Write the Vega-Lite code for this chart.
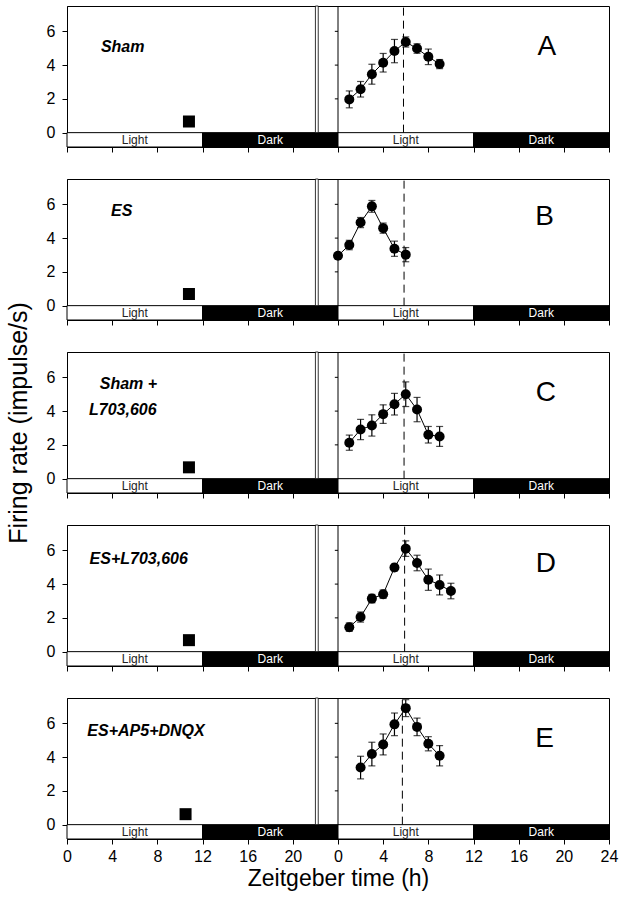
{
  "$schema": "https://vega.github.io/schema/vega-lite/v6.json",
  "padding": {"left": 5, "top": 5, "right": 5, "bottom": 2},
  "bounds": "flush",
  "spacing": 32,
  "datasets": {
    "segments": [
      {"start": 0, "end": 12, "mid": 6, "phase": "Light"},
      {"start": 12, "end": 24, "mid": 18, "phase": "Dark"},
      {"start": 24, "end": 36, "mid": 30, "phase": "Light"},
      {"start": 36, "end": 48, "mid": 42, "phase": "Dark"}
    ],
    "markers": [
      {"panel": "A", "t": 10.8, "v": 0.66},
      {"panel": "B", "t": 10.8, "v": 0.69},
      {"panel": "C", "t": 10.8, "v": 0.67},
      {"panel": "D", "t": 10.8, "v": 0.68},
      {"panel": "E", "t": 10.5, "v": 0.62}
    ],
    "points": [
      {"panel": "A", "t": 25, "v": 1.97, "err": 0.5},
      {"panel": "A", "t": 26, "v": 2.57, "err": 0.46},
      {"panel": "A", "t": 27, "v": 3.46, "err": 0.59},
      {"panel": "A", "t": 28, "v": 4.14, "err": 0.55},
      {"panel": "A", "t": 29, "v": 4.83, "err": 0.69},
      {"panel": "A", "t": 30, "v": 5.37, "err": 0.3},
      {"panel": "A", "t": 31, "v": 4.98, "err": 0.28},
      {"panel": "A", "t": 32, "v": 4.49, "err": 0.46},
      {"panel": "A", "t": 33, "v": 4.06, "err": 0.27},
      {"panel": "B", "t": 24, "v": 2.96, "err": 0.12},
      {"panel": "B", "t": 25, "v": 3.59, "err": 0.28},
      {"panel": "B", "t": 26, "v": 4.92, "err": 0.3},
      {"panel": "B", "t": 27, "v": 5.88, "err": 0.35},
      {"panel": "B", "t": 28, "v": 4.59, "err": 0.3},
      {"panel": "B", "t": 29, "v": 3.37, "err": 0.45},
      {"panel": "B", "t": 30, "v": 3.02, "err": 0.42},
      {"panel": "C", "t": 25, "v": 2.13, "err": 0.45},
      {"panel": "C", "t": 26, "v": 2.91, "err": 0.6},
      {"panel": "C", "t": 27, "v": 3.15, "err": 0.63},
      {"panel": "C", "t": 28, "v": 3.82, "err": 0.55},
      {"panel": "C", "t": 29, "v": 4.41, "err": 0.64},
      {"panel": "C", "t": 30, "v": 5.0, "err": 0.73},
      {"panel": "C", "t": 31, "v": 4.09, "err": 0.72},
      {"panel": "C", "t": 32, "v": 2.6, "err": 0.49},
      {"panel": "C", "t": 33, "v": 2.5, "err": 0.59},
      {"panel": "D", "t": 25, "v": 1.45, "err": 0.25},
      {"panel": "D", "t": 26, "v": 2.05, "err": 0.3},
      {"panel": "D", "t": 27, "v": 3.14, "err": 0.25},
      {"panel": "D", "t": 28, "v": 3.4, "err": 0.25},
      {"panel": "D", "t": 29, "v": 4.98, "err": 0.2},
      {"panel": "D", "t": 30, "v": 6.1, "err": 0.46},
      {"panel": "D", "t": 31, "v": 5.25, "err": 0.46},
      {"panel": "D", "t": 32, "v": 4.26, "err": 0.63},
      {"panel": "D", "t": 33, "v": 3.95, "err": 0.59},
      {"panel": "D", "t": 34, "v": 3.59, "err": 0.46},
      {"panel": "E", "t": 26, "v": 3.38, "err": 0.67},
      {"panel": "E", "t": 27, "v": 4.18, "err": 0.7},
      {"panel": "E", "t": 28, "v": 4.75, "err": 0.62},
      {"panel": "E", "t": 29, "v": 5.94, "err": 0.67},
      {"panel": "E", "t": 30, "v": 6.9, "err": 0.5},
      {"panel": "E", "t": 31, "v": 5.79, "err": 0.52},
      {"panel": "E", "t": 32, "v": 4.79, "err": 0.42},
      {"panel": "E", "t": 33, "v": 4.08, "err": 0.6}
    ],
    "labels": [
      {"panel": "A", "text": "Sham", "t": 3.0, "v": 5.1},
      {"panel": "B", "text": "ES", "t": 3.9, "v": 5.6},
      {"panel": "C", "text": "Sham +", "t": 2.9, "v": 5.6},
      {"panel": "C", "text": "L703,606", "t": 1.95, "v": 4.06},
      {"panel": "D", "text": "ES+L703,606", "t": 2.0, "v": 5.5},
      {"panel": "E", "text": "ES+AP5+DNQX", "t": 1.8, "v": 5.54}
    ],
    "letters": [
      {"panel": "A", "text": "A", "t": 42.5, "v": 5.07},
      {"panel": "B", "text": "B", "t": 42.3, "v": 5.24},
      {"panel": "C", "text": "C", "t": 42.4, "v": 5.06},
      {"panel": "D", "text": "D", "t": 42.4, "v": 5.2},
      {"panel": "E", "text": "E", "t": 42.3, "v": 5.1}
    ],
    "rticks": [{"v": 2}, {"v": 4}, {"v": 6}]
  },
  "vconcat": [
    {
      "width": 542, "height": 141,
      "layer": [
        {"data": {"name": "segments"}, "mark": {"type": "rect", "stroke": "black", "strokeWidth": 1},
         "encoding": {
           "x": {"field": "start", "type": "quantitative", "title": null, "scale": {"domain": [0, 48], "nice": false, "zero": false},
                 "axis": {"values": [0,4,8,12,16,20,24,28,32,36,40,44,48], "labels": false, "title": null, "tickSize": 5}},
           "x2": {"field": "end"},
           "y": {"datum": 0, "type": "quantitative", "scale": {"domain": [-0.85, 7.5], "nice": false, "zero": false},
                 "axis": {"values": [0,2,4,6], "title": null}},
           "y2": {"datum": -0.85},
           "fill": {"field": "phase", "type": "nominal", "scale": {"domain": ["Light", "Dark"], "range": ["#ffffff", "#000000"]}, "legend": null}}},
        {"data": {"name": "segments"}, "mark": {"type": "text", "fontSize": 12, "baseline": "middle"},
         "encoding": {"x": {"field": "mid", "type": "quantitative", "title": null}, "y": {"datum": -0.42}, "text": {"field": "phase"},
           "color": {"field": "phase", "type": "nominal", "scale": {"domain": ["Light", "Dark"], "range": ["#222222", "#ffffff"]}, "legend": null}}},
        {"data": {"values": [{}]}, "mark": {"type": "rect", "fill": "white", "stroke": "black", "strokeWidth": 0.8},
         "encoding": {"x": {"datum": 22}, "x2": {"datum": 22.25}, "y": {"datum": 0}, "y2": {"datum": 7.5}}},
        {"data": {"values": [{}]}, "mark": {"type": "rule", "color": "black", "strokeWidth": 1},
         "encoding": {"x": {"datum": 24}, "y": {"datum": 0}, "y2": {"datum": 7.5}}},
        {"data": {"name": "rticks"}, "mark": {"type": "rule", "color": "black", "strokeWidth": 1},
         "encoding": {"x": {"datum": 23.72}, "x2": {"datum": 24}, "y": {"field": "v", "type": "quantitative", "title": null}}},
        {"data": {"values": [{}]}, "mark": {"type": "rule", "color": "#000000", "strokeWidth": 1, "strokeDash": [8, 5]},
         "encoding": {"x": {"datum": 29.8}, "y": {"datum": 0}, "y2": {"datum": 7.5}}},
        {"data": {"name": "markers"}, "transform": [{"filter": "datum.panel == 'A'"}],
         "mark": {"type": "square", "filled": true, "color": "black", "size": 144, "opacity": 1},
         "encoding": {"x": {"field": "t", "type": "quantitative", "title": null}, "y": {"field": "v", "type": "quantitative", "title": null}}},
        {"data": {"name": "points"}, "transform": [{"filter": "datum.panel == 'A'"}],
         "mark": {"type": "line", "color": "black", "strokeWidth": 1},
         "encoding": {"x": {"field": "t", "type": "quantitative", "title": null}, "y": {"field": "v", "type": "quantitative", "title": null}}},
        {"data": {"name": "points"}, "transform": [{"filter": "datum.panel == 'A'"}],
         "mark": {"type": "errorbar", "color": "black", "thickness": 1.2, "ticks": {"size": 7, "color": "black", "thickness": 1.2}},
         "encoding": {"x": {"field": "t", "type": "quantitative", "title": null}, "y": {"field": "v", "type": "quantitative", "title": null}, "yError": {"field": "err"}}},
        {"data": {"name": "points"}, "transform": [{"filter": "datum.panel == 'A'"}],
         "mark": {"type": "circle", "color": "black", "size": 100, "opacity": 1},
         "encoding": {"x": {"field": "t", "type": "quantitative", "title": null}, "y": {"field": "v", "type": "quantitative", "title": null}}},
        {"data": {"name": "labels"}, "transform": [{"filter": "datum.panel == 'A'"}],
         "mark": {"type": "text", "align": "left", "baseline": "middle", "fontSize": 16, "fontWeight": "bold", "fontStyle": "italic", "color": "black"},
         "encoding": {"x": {"field": "t", "type": "quantitative", "title": null}, "y": {"field": "v", "type": "quantitative", "title": null}, "text": {"field": "text"}}},
        {"data": {"name": "letters"}, "transform": [{"filter": "datum.panel == 'A'"}],
         "mark": {"type": "text", "align": "center", "baseline": "middle", "fontSize": 28, "color": "black"},
         "encoding": {"x": {"field": "t", "type": "quantitative", "title": null}, "y": {"field": "v", "type": "quantitative", "title": null}, "text": {"field": "text"}}}
      ]
    },
    {
      "width": 542, "height": 141,
      "layer": [
        {"data": {"name": "segments"}, "mark": {"type": "rect", "stroke": "black", "strokeWidth": 1},
         "encoding": {
           "x": {"field": "start", "type": "quantitative", "title": null, "scale": {"domain": [0, 48], "nice": false, "zero": false},
                 "axis": {"values": [0,4,8,12,16,20,24,28,32,36,40,44,48], "labels": false, "title": null, "tickSize": 5}},
           "x2": {"field": "end"},
           "y": {"datum": 0, "type": "quantitative", "scale": {"domain": [-0.85, 7.5], "nice": false, "zero": false},
                 "axis": {"values": [0,2,4,6], "title": null}},
           "y2": {"datum": -0.85},
           "fill": {"field": "phase", "type": "nominal", "scale": {"domain": ["Light", "Dark"], "range": ["#ffffff", "#000000"]}, "legend": null}}},
        {"data": {"name": "segments"}, "mark": {"type": "text", "fontSize": 12, "baseline": "middle"},
         "encoding": {"x": {"field": "mid", "type": "quantitative", "title": null}, "y": {"datum": -0.42}, "text": {"field": "phase"},
           "color": {"field": "phase", "type": "nominal", "scale": {"domain": ["Light", "Dark"], "range": ["#222222", "#ffffff"]}, "legend": null}}},
        {"data": {"values": [{}]}, "mark": {"type": "rect", "fill": "white", "stroke": "black", "strokeWidth": 0.8},
         "encoding": {"x": {"datum": 22}, "x2": {"datum": 22.25}, "y": {"datum": 0}, "y2": {"datum": 7.5}}},
        {"data": {"values": [{}]}, "mark": {"type": "rule", "color": "black", "strokeWidth": 1},
         "encoding": {"x": {"datum": 24}, "y": {"datum": 0}, "y2": {"datum": 7.5}}},
        {"data": {"name": "rticks"}, "mark": {"type": "rule", "color": "black", "strokeWidth": 1},
         "encoding": {"x": {"datum": 23.72}, "x2": {"datum": 24}, "y": {"field": "v", "type": "quantitative", "title": null}}},
        {"data": {"values": [{}]}, "mark": {"type": "rule", "color": "#000000", "strokeWidth": 1, "strokeDash": [8, 5]},
         "encoding": {"x": {"datum": 29.85}, "y": {"datum": 0}, "y2": {"datum": 7.5}}},
        {"data": {"name": "markers"}, "transform": [{"filter": "datum.panel == 'B'"}],
         "mark": {"type": "square", "filled": true, "color": "black", "size": 144, "opacity": 1},
         "encoding": {"x": {"field": "t", "type": "quantitative", "title": null}, "y": {"field": "v", "type": "quantitative", "title": null}}},
        {"data": {"name": "points"}, "transform": [{"filter": "datum.panel == 'B'"}],
         "mark": {"type": "line", "color": "black", "strokeWidth": 1},
         "encoding": {"x": {"field": "t", "type": "quantitative", "title": null}, "y": {"field": "v", "type": "quantitative", "title": null}}},
        {"data": {"name": "points"}, "transform": [{"filter": "datum.panel == 'B'"}],
         "mark": {"type": "errorbar", "color": "black", "thickness": 1.2, "ticks": {"size": 7, "color": "black", "thickness": 1.2}},
         "encoding": {"x": {"field": "t", "type": "quantitative", "title": null}, "y": {"field": "v", "type": "quantitative", "title": null}, "yError": {"field": "err"}}},
        {"data": {"name": "points"}, "transform": [{"filter": "datum.panel == 'B'"}],
         "mark": {"type": "circle", "color": "black", "size": 100, "opacity": 1},
         "encoding": {"x": {"field": "t", "type": "quantitative", "title": null}, "y": {"field": "v", "type": "quantitative", "title": null}}},
        {"data": {"name": "labels"}, "transform": [{"filter": "datum.panel == 'B'"}],
         "mark": {"type": "text", "align": "left", "baseline": "middle", "fontSize": 16, "fontWeight": "bold", "fontStyle": "italic", "color": "black"},
         "encoding": {"x": {"field": "t", "type": "quantitative", "title": null}, "y": {"field": "v", "type": "quantitative", "title": null}, "text": {"field": "text"}}},
        {"data": {"name": "letters"}, "transform": [{"filter": "datum.panel == 'B'"}],
         "mark": {"type": "text", "align": "center", "baseline": "middle", "fontSize": 28, "color": "black"},
         "encoding": {"x": {"field": "t", "type": "quantitative", "title": null}, "y": {"field": "v", "type": "quantitative", "title": null}, "text": {"field": "text"}}}
      ]
    },
    {
      "width": 542, "height": 141,
      "layer": [
        {"data": {"name": "segments"}, "mark": {"type": "rect", "stroke": "black", "strokeWidth": 1},
         "encoding": {
           "x": {"field": "start", "type": "quantitative", "title": null, "scale": {"domain": [0, 48], "nice": false, "zero": false},
                 "axis": {"values": [0,4,8,12,16,20,24,28,32,36,40,44,48], "labels": false, "title": null, "tickSize": 5}},
           "x2": {"field": "end"},
           "y": {"datum": 0, "type": "quantitative", "scale": {"domain": [-0.85, 7.5], "nice": false, "zero": false},
                 "axis": {"values": [0,2,4,6], "title": "Firing rate (impulse/s)"}},
           "y2": {"datum": -0.85},
           "fill": {"field": "phase", "type": "nominal", "scale": {"domain": ["Light", "Dark"], "range": ["#ffffff", "#000000"]}, "legend": null}}},
        {"data": {"name": "segments"}, "mark": {"type": "text", "fontSize": 12, "baseline": "middle"},
         "encoding": {"x": {"field": "mid", "type": "quantitative", "title": null}, "y": {"datum": -0.42}, "text": {"field": "phase"},
           "color": {"field": "phase", "type": "nominal", "scale": {"domain": ["Light", "Dark"], "range": ["#222222", "#ffffff"]}, "legend": null}}},
        {"data": {"values": [{}]}, "mark": {"type": "rect", "fill": "white", "stroke": "black", "strokeWidth": 0.8},
         "encoding": {"x": {"datum": 22}, "x2": {"datum": 22.25}, "y": {"datum": 0}, "y2": {"datum": 7.5}}},
        {"data": {"values": [{}]}, "mark": {"type": "rule", "color": "black", "strokeWidth": 1},
         "encoding": {"x": {"datum": 24}, "y": {"datum": 0}, "y2": {"datum": 7.5}}},
        {"data": {"name": "rticks"}, "mark": {"type": "rule", "color": "black", "strokeWidth": 1},
         "encoding": {"x": {"datum": 23.72}, "x2": {"datum": 24}, "y": {"field": "v", "type": "quantitative", "title": "Firing rate (impulse/s)"}}},
        {"data": {"values": [{}]}, "mark": {"type": "rule", "color": "#000000", "strokeWidth": 1, "strokeDash": [8, 5]},
         "encoding": {"x": {"datum": 29.85}, "y": {"datum": 0}, "y2": {"datum": 7.5}}},
        {"data": {"name": "markers"}, "transform": [{"filter": "datum.panel == 'C'"}],
         "mark": {"type": "square", "filled": true, "color": "black", "size": 144, "opacity": 1},
         "encoding": {"x": {"field": "t", "type": "quantitative", "title": null}, "y": {"field": "v", "type": "quantitative", "title": "Firing rate (impulse/s)"}}},
        {"data": {"name": "points"}, "transform": [{"filter": "datum.panel == 'C'"}],
         "mark": {"type": "line", "color": "black", "strokeWidth": 1},
         "encoding": {"x": {"field": "t", "type": "quantitative", "title": null}, "y": {"field": "v", "type": "quantitative", "title": "Firing rate (impulse/s)"}}},
        {"data": {"name": "points"}, "transform": [{"filter": "datum.panel == 'C'"}],
         "mark": {"type": "errorbar", "color": "black", "thickness": 1.2, "ticks": {"size": 7, "color": "black", "thickness": 1.2}},
         "encoding": {"x": {"field": "t", "type": "quantitative", "title": null}, "y": {"field": "v", "type": "quantitative", "title": "Firing rate (impulse/s)"}, "yError": {"field": "err"}}},
        {"data": {"name": "points"}, "transform": [{"filter": "datum.panel == 'C'"}],
         "mark": {"type": "circle", "color": "black", "size": 100, "opacity": 1},
         "encoding": {"x": {"field": "t", "type": "quantitative", "title": null}, "y": {"field": "v", "type": "quantitative", "title": "Firing rate (impulse/s)"}}},
        {"data": {"name": "labels"}, "transform": [{"filter": "datum.panel == 'C'"}],
         "mark": {"type": "text", "align": "left", "baseline": "middle", "fontSize": 16, "fontWeight": "bold", "fontStyle": "italic", "color": "black"},
         "encoding": {"x": {"field": "t", "type": "quantitative", "title": null}, "y": {"field": "v", "type": "quantitative", "title": "Firing rate (impulse/s)"}, "text": {"field": "text"}}},
        {"data": {"name": "letters"}, "transform": [{"filter": "datum.panel == 'C'"}],
         "mark": {"type": "text", "align": "center", "baseline": "middle", "fontSize": 28, "color": "black"},
         "encoding": {"x": {"field": "t", "type": "quantitative", "title": null}, "y": {"field": "v", "type": "quantitative", "title": "Firing rate (impulse/s)"}, "text": {"field": "text"}}}
      ]
    },
    {
      "width": 542, "height": 141,
      "layer": [
        {"data": {"name": "segments"}, "mark": {"type": "rect", "stroke": "black", "strokeWidth": 1},
         "encoding": {
           "x": {"field": "start", "type": "quantitative", "title": null, "scale": {"domain": [0, 48], "nice": false, "zero": false},
                 "axis": {"values": [0,4,8,12,16,20,24,28,32,36,40,44,48], "labels": false, "title": null, "tickSize": 5}},
           "x2": {"field": "end"},
           "y": {"datum": 0, "type": "quantitative", "scale": {"domain": [-0.85, 7.5], "nice": false, "zero": false},
                 "axis": {"values": [0,2,4,6], "title": null}},
           "y2": {"datum": -0.85},
           "fill": {"field": "phase", "type": "nominal", "scale": {"domain": ["Light", "Dark"], "range": ["#ffffff", "#000000"]}, "legend": null}}},
        {"data": {"name": "segments"}, "mark": {"type": "text", "fontSize": 12, "baseline": "middle"},
         "encoding": {"x": {"field": "mid", "type": "quantitative", "title": null}, "y": {"datum": -0.42}, "text": {"field": "phase"},
           "color": {"field": "phase", "type": "nominal", "scale": {"domain": ["Light", "Dark"], "range": ["#222222", "#ffffff"]}, "legend": null}}},
        {"data": {"values": [{}]}, "mark": {"type": "rect", "fill": "white", "stroke": "black", "strokeWidth": 0.8},
         "encoding": {"x": {"datum": 22}, "x2": {"datum": 22.25}, "y": {"datum": 0}, "y2": {"datum": 7.5}}},
        {"data": {"values": [{}]}, "mark": {"type": "rule", "color": "black", "strokeWidth": 1},
         "encoding": {"x": {"datum": 24}, "y": {"datum": 0}, "y2": {"datum": 7.5}}},
        {"data": {"name": "rticks"}, "mark": {"type": "rule", "color": "black", "strokeWidth": 1},
         "encoding": {"x": {"datum": 23.72}, "x2": {"datum": 24}, "y": {"field": "v", "type": "quantitative", "title": null}}},
        {"data": {"values": [{}]}, "mark": {"type": "rule", "color": "#000000", "strokeWidth": 1, "strokeDash": [8, 5]},
         "encoding": {"x": {"datum": 29.9}, "y": {"datum": 0}, "y2": {"datum": 7.5}}},
        {"data": {"name": "markers"}, "transform": [{"filter": "datum.panel == 'D'"}],
         "mark": {"type": "square", "filled": true, "color": "black", "size": 144, "opacity": 1},
         "encoding": {"x": {"field": "t", "type": "quantitative", "title": null}, "y": {"field": "v", "type": "quantitative", "title": null}}},
        {"data": {"name": "points"}, "transform": [{"filter": "datum.panel == 'D'"}],
         "mark": {"type": "line", "color": "black", "strokeWidth": 1},
         "encoding": {"x": {"field": "t", "type": "quantitative", "title": null}, "y": {"field": "v", "type": "quantitative", "title": null}}},
        {"data": {"name": "points"}, "transform": [{"filter": "datum.panel == 'D'"}],
         "mark": {"type": "errorbar", "color": "black", "thickness": 1.2, "ticks": {"size": 7, "color": "black", "thickness": 1.2}},
         "encoding": {"x": {"field": "t", "type": "quantitative", "title": null}, "y": {"field": "v", "type": "quantitative", "title": null}, "yError": {"field": "err"}}},
        {"data": {"name": "points"}, "transform": [{"filter": "datum.panel == 'D'"}],
         "mark": {"type": "circle", "color": "black", "size": 100, "opacity": 1},
         "encoding": {"x": {"field": "t", "type": "quantitative", "title": null}, "y": {"field": "v", "type": "quantitative", "title": null}}},
        {"data": {"name": "labels"}, "transform": [{"filter": "datum.panel == 'D'"}],
         "mark": {"type": "text", "align": "left", "baseline": "middle", "fontSize": 16, "fontWeight": "bold", "fontStyle": "italic", "color": "black"},
         "encoding": {"x": {"field": "t", "type": "quantitative", "title": null}, "y": {"field": "v", "type": "quantitative", "title": null}, "text": {"field": "text"}}},
        {"data": {"name": "letters"}, "transform": [{"filter": "datum.panel == 'D'"}],
         "mark": {"type": "text", "align": "center", "baseline": "middle", "fontSize": 28, "color": "black"},
         "encoding": {"x": {"field": "t", "type": "quantitative", "title": null}, "y": {"field": "v", "type": "quantitative", "title": null}, "text": {"field": "text"}}}
      ]
    },
    {
      "width": 542, "height": 141,
      "layer": [
        {"data": {"name": "segments"}, "mark": {"type": "rect", "stroke": "black", "strokeWidth": 1},
         "encoding": {
           "x": {"field": "start", "type": "quantitative", "title": "Zeitgeber time (h)", "scale": {"domain": [0, 48], "nice": false, "zero": false},
                 "axis": {"values": [0,4,8,12,16,20,24,28,32,36,40,44,48], "labelExpr": "'' + (datum.value >= 24 ? datum.value - 24 : datum.value)", "labelFlush": false, "labelPadding": 4, "titlePadding": 3, "tickSize": 5}},
           "x2": {"field": "end"},
           "y": {"datum": 0, "type": "quantitative", "scale": {"domain": [-0.85, 7.5], "nice": false, "zero": false},
                 "axis": {"values": [0,2,4,6], "title": null}},
           "y2": {"datum": -0.85},
           "fill": {"field": "phase", "type": "nominal", "scale": {"domain": ["Light", "Dark"], "range": ["#ffffff", "#000000"]}, "legend": null}}},
        {"data": {"name": "segments"}, "mark": {"type": "text", "fontSize": 12, "baseline": "middle"},
         "encoding": {"x": {"field": "mid", "type": "quantitative", "title": "Zeitgeber time (h)"}, "y": {"datum": -0.42}, "text": {"field": "phase"},
           "color": {"field": "phase", "type": "nominal", "scale": {"domain": ["Light", "Dark"], "range": ["#222222", "#ffffff"]}, "legend": null}}},
        {"data": {"values": [{}]}, "mark": {"type": "rect", "fill": "white", "stroke": "black", "strokeWidth": 0.8},
         "encoding": {"x": {"datum": 22}, "x2": {"datum": 22.25}, "y": {"datum": 0}, "y2": {"datum": 7.5}}},
        {"data": {"values": [{}]}, "mark": {"type": "rule", "color": "black", "strokeWidth": 1},
         "encoding": {"x": {"datum": 24}, "y": {"datum": 0}, "y2": {"datum": 7.5}}},
        {"data": {"name": "rticks"}, "mark": {"type": "rule", "color": "black", "strokeWidth": 1},
         "encoding": {"x": {"datum": 23.72}, "x2": {"datum": 24}, "y": {"field": "v", "type": "quantitative", "title": null}}},
        {"data": {"values": [{}]}, "mark": {"type": "rule", "color": "#000000", "strokeWidth": 1, "strokeDash": [8, 5]},
         "encoding": {"x": {"datum": 29.7}, "y": {"datum": 0}, "y2": {"datum": 7.5}}},
        {"data": {"name": "markers"}, "transform": [{"filter": "datum.panel == 'E'"}],
         "mark": {"type": "square", "filled": true, "color": "black", "size": 144, "opacity": 1},
         "encoding": {"x": {"field": "t", "type": "quantitative", "title": "Zeitgeber time (h)"}, "y": {"field": "v", "type": "quantitative", "title": null}}},
        {"data": {"name": "points"}, "transform": [{"filter": "datum.panel == 'E'"}],
         "mark": {"type": "line", "color": "black", "strokeWidth": 1},
         "encoding": {"x": {"field": "t", "type": "quantitative", "title": "Zeitgeber time (h)"}, "y": {"field": "v", "type": "quantitative", "title": null}}},
        {"data": {"name": "points"}, "transform": [{"filter": "datum.panel == 'E'"}],
         "mark": {"type": "errorbar", "color": "black", "thickness": 1.2, "ticks": {"size": 7, "color": "black", "thickness": 1.2}},
         "encoding": {"x": {"field": "t", "type": "quantitative", "title": "Zeitgeber time (h)"}, "y": {"field": "v", "type": "quantitative", "title": null}, "yError": {"field": "err"}}},
        {"data": {"name": "points"}, "transform": [{"filter": "datum.panel == 'E'"}],
         "mark": {"type": "circle", "color": "black", "size": 100, "opacity": 1},
         "encoding": {"x": {"field": "t", "type": "quantitative", "title": "Zeitgeber time (h)"}, "y": {"field": "v", "type": "quantitative", "title": null}}},
        {"data": {"name": "labels"}, "transform": [{"filter": "datum.panel == 'E'"}],
         "mark": {"type": "text", "align": "left", "baseline": "middle", "fontSize": 16, "fontWeight": "bold", "fontStyle": "italic", "color": "black"},
         "encoding": {"x": {"field": "t", "type": "quantitative", "title": "Zeitgeber time (h)"}, "y": {"field": "v", "type": "quantitative", "title": null}, "text": {"field": "text"}}},
        {"data": {"name": "letters"}, "transform": [{"filter": "datum.panel == 'E'"}],
         "mark": {"type": "text", "align": "center", "baseline": "middle", "fontSize": 28, "color": "black"},
         "encoding": {"x": {"field": "t", "type": "quantitative", "title": "Zeitgeber time (h)"}, "y": {"field": "v", "type": "quantitative", "title": null}, "text": {"field": "text"}}}
      ]
    }
  ],
  "config": {
    "font": "Liberation Sans",
    "view": {"stroke": "#000000", "strokeWidth": 1},
    "text": {"font": "Liberation Sans"},
    "axis": {"grid": false, "labelFont": "Liberation Sans", "titleFont": "Liberation Sans", "labelColor": "#000000", "titleColor": "#000000", "tickColor": "#000000", "domainColor": "#000000", "titleFontWeight": "normal", "labelFontSize": 16, "titleFontSize": 23, "tickSize": 5},
    "axisY": {"labelPadding": 7, "titlePadding": 15, "titleFontSize": 25}
  }
}
